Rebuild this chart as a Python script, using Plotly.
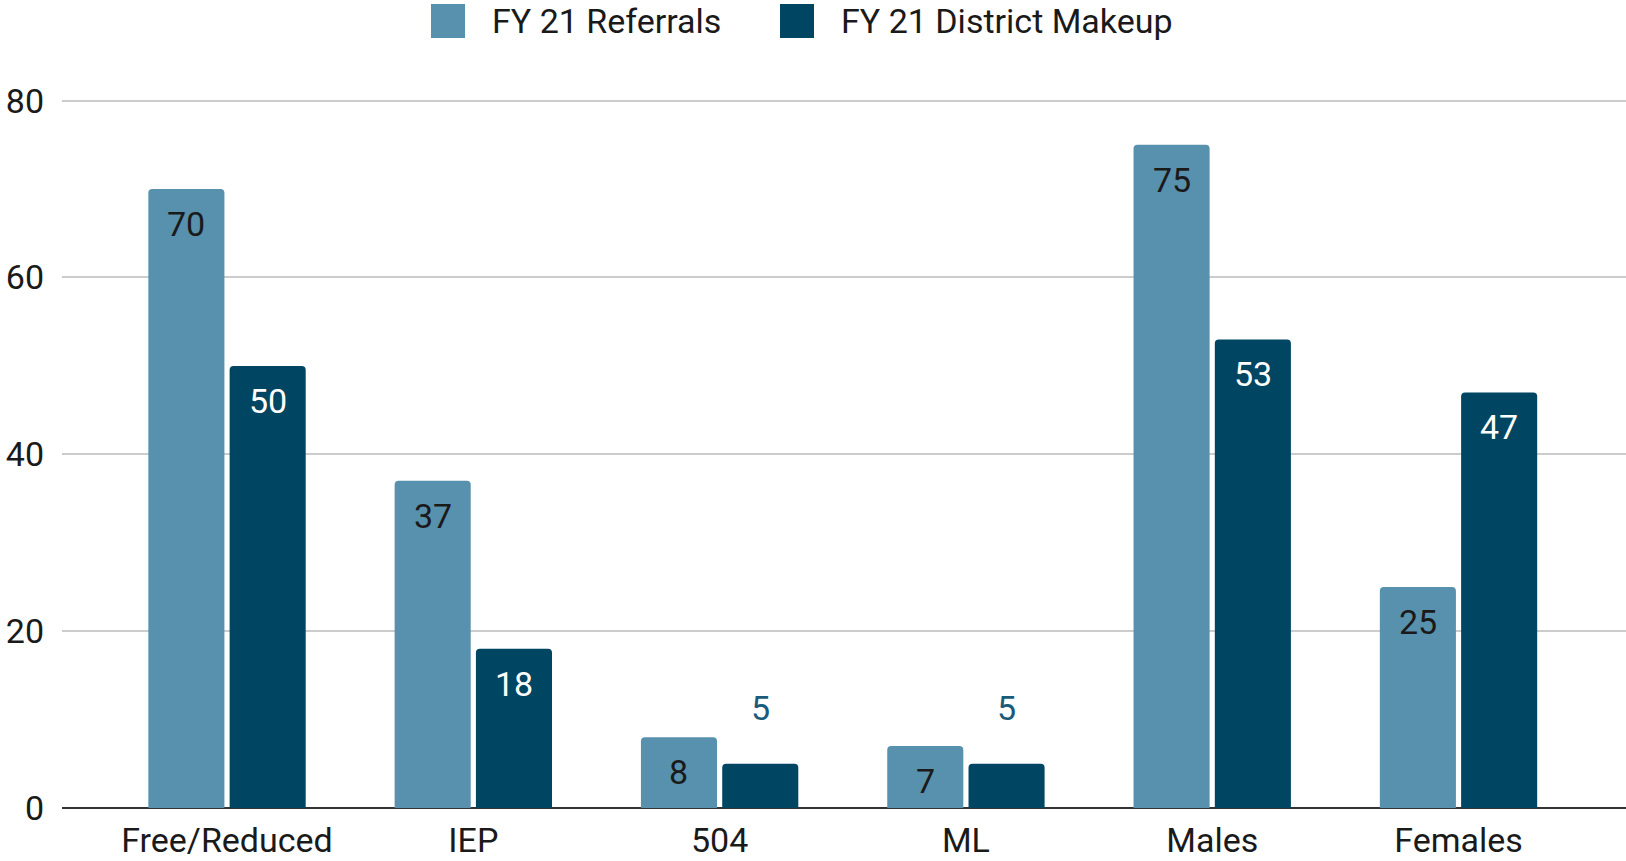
import plotly.graph_objects as go

categories = ["Free/Reduced", "IEP", "504", "ML", "Males", "Females"]
referrals = [70, 37, 8, 7, 75, 25]
district = [50, 18, 5, 5, 53, 47]
series_names = ["FY 21 Referrals", "FY 21 District Makeup"]
y_ticks = [0, 20, 40, 60, 80]

LIGHT = "#5891AD"
DARK = "#004561"
OUT_LABEL = "#1a5a7a"
TXT = "#1a1a1a"
FONT = "Roboto"
FS = 34

W, H = 1626, 861
ML_, MR, MT, MB = 62, 0, 98, 53
PW = W - ML_ - MR
PH = H - MT - MB
XR = [-0.67, 5.68]
YR = [0, 80.3]
BARGAP = 0.34
GROUPGAP = 0.064

fig = go.Figure()
fig.add_trace(go.Bar(x=categories, y=referrals, name=series_names[0],
                     marker=dict(color=LIGHT, line=dict(width=0)), showlegend=False))
fig.add_trace(go.Bar(x=categories, y=district, name=series_names[1],
                     marker=dict(color=DARK, line=dict(width=0)), showlegend=False))

# value labels
band = PW / (XR[1] - XR[0])
slot = band * (1 - BARGAP) / 2
px_per_unit = PH / (YR[1] - YR[0])
annotations = []
for si, (vals, inside_col) in enumerate([(referrals, TXT), (district, "#ffffff")]):
    shift = -slot / 2 if si == 0 else slot / 2
    for j, v in enumerate(vals):
        inside = v * px_per_unit >= 55
        annotations.append(dict(
            x=j, y=v, xref="x", yref="y", text=str(v), showarrow=False,
            xshift=shift, yshift=-35 if inside else 56,
            font=dict(family=FONT, size=FS, color=inside_col if inside else OUT_LABEL),
            xanchor="center", yanchor="middle"))

# custom legend (pixel positions in page coordinates)
def px_to_paper_x(px):
    return (px - ML_) / PW

def px_to_paper_y(py):
    return (H - MB - py) / PH

shapes = []
legend_items = [(series_names[0], LIGHT, 431, 490), (series_names[1], DARK, 780, 839)]
for name, col, sx, tx in legend_items:
    shapes.append(dict(type="rect", xref="paper", yref="paper",
                       x0=px_to_paper_x(sx), x1=px_to_paper_x(sx + 34),
                       y0=px_to_paper_y(38), y1=px_to_paper_y(4),
                       fillcolor=col, line=dict(width=0)))
    annotations.append(dict(x=px_to_paper_x(tx), y=px_to_paper_y(21), xref="paper", yref="paper",
                            text=name, showarrow=False, xanchor="left", yanchor="middle",
                            font=dict(family=FONT, size=FS, color=TXT)))

fig.update_layout(
    width=W, height=H,
    margin=dict(l=ML_, r=MR, t=MT, b=MB, pad=0, autoexpand=False),
    paper_bgcolor="white", plot_bgcolor="white",
    barmode="group", bargap=BARGAP, bargroupgap=GROUPGAP, barcornerradius=4,
    font=dict(family=FONT, size=FS, color=TXT),
    annotations=annotations, shapes=shapes,
    xaxis=dict(type="category", range=XR, showgrid=False, showline=False, ticks="", automargin=False,
               tickfont=dict(family=FONT, size=FS, color=TXT), ticklabelstandoff=9),
    yaxis=dict(range=YR, tickvals=y_ticks, showgrid=True, gridcolor="#cccccc", gridwidth=2,
               zeroline=True, zerolinecolor="#333333", zerolinewidth=2, showline=False, automargin=False,
               ticks="", tickfont=dict(family=FONT, size=FS, color=TXT), ticklabelstandoff=17),
)

fig.write_html("out.html", config={"displayModeBar": False},
               post_script="document.body.style.margin='0px';document.body.style.overflow='hidden';")
